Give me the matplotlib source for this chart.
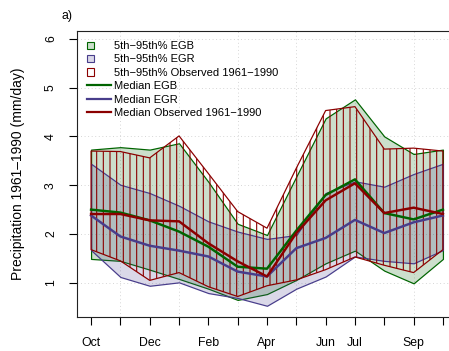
# precipitation envelopes EGB / EGR / observed 1961-1990

import numpy as np
import matplotlib
matplotlib.use("Agg")
import matplotlib.pyplot as plt
import matplotlib.patches as mpatches
from matplotlib.lines import Line2D
from matplotlib.legend_handler import HandlerPatch

month_labels = ["Oct", "", "Dec", "", "Feb", "", "Apr", "", "Jun", "Jul", "", "Sep", ""]

egb_hi  = [3.73, 3.78, 3.73, 3.86, 3.07, 2.21, 1.98, 3.18, 4.37, 4.76, 4.00, 3.64, 3.73]
egb_lo  = [1.49, 1.45, 1.27, 1.08, 0.88, 0.65, 0.77, 1.06, 1.40, 1.66, 1.25, 0.99, 1.49]
egb_med = [2.50, 2.44, 2.28, 2.05, 1.74, 1.33, 1.29, 2.07, 2.80, 3.12, 2.43, 2.30, 2.50]

egr_hi  = [3.44, 3.01, 2.84, 2.58, 2.26, 2.05, 1.90, 1.98, 2.84, 3.08, 2.97, 3.23, 3.44]
egr_lo  = [1.67, 1.12, 0.94, 1.01, 0.79, 0.69, 0.53, 0.88, 1.13, 1.54, 1.45, 1.40, 1.67]
egr_med = [2.38, 1.95, 1.76, 1.66, 1.54, 1.23, 1.13, 1.71, 1.92, 2.29, 2.02, 2.24, 2.38]

obs_hi  = [3.70, 3.69, 3.56, 4.01, 3.24, 2.46, 2.12, 3.35, 4.53, 4.61, 3.74, 3.76, 3.70]
obs_lo  = [1.68, 1.45, 1.05, 1.21, 0.92, 0.72, 0.94, 1.06, 1.27, 1.53, 1.36, 1.21, 1.68]
obs_med = [2.41, 2.41, 2.28, 2.26, 1.81, 1.44, 1.13, 2.02, 2.69, 3.04, 2.43, 2.54, 2.41]

green = "#006400"
blue = "#483D8B"
red = "#8B0000"

plt.rcParams['font.family'] = ['Liberation Sans', 'DejaVu Sans']
plt.rcParams['hatch.linewidth'] = 1.0
plt.rcParams['hatch.color'] = red

x = np.arange(1, len(month_labels) + 1)

fig = plt.figure(figsize=(449/80, 351/80), dpi=80)
ax = fig.add_axes([77/449, 34/351, 380/449, 286/351])

# grid first, R style
for yv in range(1, 7):
    ax.axhline(yv, color="#cfcfcf", lw=0.8, ls=(0, (1, 3)), zorder=0)
for xv in x[1::2]:
    ax.axvline(xv, color="#cfcfcf", lw=0.8, ls=(0, (1, 3)), zorder=0)

ax.fill_between(x, egb_lo, egb_hi, facecolor=(0, 0.39, 0, 0.2), edgecolor=green, lw=1.1, zorder=1)
ax.fill_between(x, egr_lo, egr_hi, facecolor=(0.28, 0.24, 0.55, 0.2), edgecolor=blue, lw=1.1, zorder=2)
ax.fill_between(x, obs_lo, obs_hi, facecolor="none", edgecolor=red, hatch="||", lw=1.1, zorder=3)

ax.plot(x, egb_med, color=green, lw=2.2, zorder=4)
ax.plot(x, egr_med, color=blue, lw=2.2, zorder=4)
ax.plot(x, obs_med, color=red, lw=2.2, zorder=5)

ax.set_xlim(0.52, 13.48)
ax.set_ylim(0.30, 6.16)
ax.set_xticks(x)
ax.set_xticklabels(month_labels)
ax.set_yticks(range(1, 7))
ax.set_yticklabels([str(v) for v in range(1, 7)], rotation=90, va="center")
ax.tick_params(axis='both', direction='out', length=7, width=1, labelsize=11, pad=11)
for s in ax.spines.values():
    s.set_linewidth(1.0)
    s.set_color("#222222")

ax.set_ylabel("Precipitation 1961\u20131990 (mm/day)", fontsize=12.5)
ax.yaxis.set_label_coords(-0.138, 0.5)
fig.text(61/449, 1 - 16/351, "a)", fontsize=11, va="center", ha="left")


def small_box(legend, orig_handle, xdescent, ydescent, width, height, fontsize):
    s = 6.5
    return mpatches.Rectangle((-xdescent, -ydescent + (height - s) / 2), s, s)


handles = [
    mpatches.Patch(facecolor=(0, 0.39, 0, 0.2), edgecolor=green, lw=1.0),
    mpatches.Patch(facecolor=(0.28, 0.24, 0.55, 0.2), edgecolor=blue, lw=1.0),
    mpatches.Patch(facecolor="none", edgecolor=red, hatch="|", lw=1.0),
    Line2D([], [], color=green, lw=2.0),
    Line2D([], [], color=blue, lw=2.0),
    Line2D([], [], color=red, lw=2.0),
]
labels = ["5th\u221295th% EGB", "5th\u221295th% EGR", "5th\u221295th% Observed 1961\u22121990",
          "Median EGB", "Median EGR", "Median Observed 1961\u22121990"]
leg = ax.legend(handles, labels, loc="upper left", bbox_to_anchor=(0.026, 0.965),
                frameon=False, fontsize=10, handlelength=2.15, handletextpad=0.3,
                labelspacing=0.31, borderpad=0, borderaxespad=0,
                handler_map={mpatches.Patch: HandlerPatch(patch_func=small_box)})

fig.savefig("out.png", dpi=80)
